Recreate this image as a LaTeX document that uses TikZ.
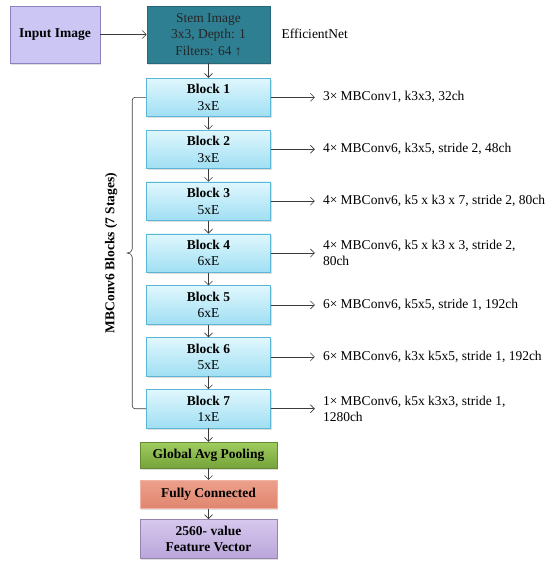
\documentclass[tikz,border=0pt]{standalone}
\usepackage{fontspec}
\setmainfont{Liberation Serif}
\usetikzlibrary{positioning,arrows.meta,shadows}

\definecolor{inpfill}{RGB}{204,198,245}
\definecolor{inpline}{RGB}{140,130,190}
\definecolor{stemfill}{RGB}{47,127,147}
\definecolor{stemline}{RGB}{36,104,122}
\definecolor{blktop}{RGB}{224,247,253}
\definecolor{blkbot}{RGB}{160,223,243}
\definecolor{blkline}{RGB}{90,182,212}
\definecolor{gaptop}{RGB}{160,204,96}
\definecolor{gapbot}{RGB}{118,164,58}
\definecolor{fctop}{RGB}{236,160,140}
\definecolor{fcbot}{RGB}{224,134,112}
\definecolor{fvtop}{RGB}{214,200,238}
\definecolor{fvbot}{RGB}{186,166,218}
\definecolor{linegray}{RGB}{60,60,60}

\begin{document}
\begin{tikzpicture}[x=1pt, y=1pt,
    every node/.style={font=\fontsize{13.5}{16.5}\selectfont},
    box/.style={draw, align=center, inner sep=0pt, line width=0.6pt,
      drop shadow={opacity=0.25, shadow xshift=1pt, shadow yshift=-1.5pt}},
    blk/.style={box, draw=blkline, top color=blktop, bottom color=blkbot,
      minimum width=124pt, minimum height=38.5pt},
    endbox/.style={box, minimum width=137pt, font=\fontsize{13.5}{16.5}\selectfont\bfseries},
    flow/.style={draw=linegray, line width=0.6pt, -{Straight Barb[length=4pt,width=8pt]}},
    spec/.style={anchor=west, align=left, inner xsep=8pt, inner ysep=0pt},
    brk/.style={draw=linegray, line width=0.6pt}]
  \useasboundingbox (0,0) rectangle (553,-562);

  \node [box, draw=inpline, fill=inpfill, minimum width=90pt, minimum height=57pt,
    font=\fontsize{13.5}{16.5}\selectfont\bfseries] (input) at (55,-34.5) {Input Image};
  \node [box, draw=stemline, fill=stemfill, minimum width=123pt, minimum height=57pt,
    text=black!85] (stem) at (208.5,-34.5) {Stem Image\\3x3, Depth: 1\\Filters: 64 ↑};
  \node [anchor=west, inner sep=0pt] (effnet) at ([xshift=11pt,yshift=1pt]stem.east) {EfficientNet};

  \node [blk, below=14.5pt of stem] (b1) {\textbf{Block 1}\\3xE};
  \node [blk, below=12.8pt of b1] (b2) {\textbf{Block 2}\\3xE};
  \node [blk, below=12.8pt of b2] (b3) {\textbf{Block 3}\\5xE};
  \node [blk, below=12.8pt of b3] (b4) {\textbf{Block 4}\\6xE};
  \node [blk, below=12.8pt of b4] (b5) {\textbf{Block 5}\\6xE};
  \node [blk, below=12.8pt of b5] (b6) {\textbf{Block 6}\\5xE};
  \node [blk, below=12.8pt of b6] (b7) {\textbf{Block 7}\\1xE};

  \node [endbox, draw=gapbot!85!black, top color=gaptop, bottom color=gapbot,
    minimum height=26pt, below=13.5pt of b7] (gap) {Global Avg Pooling};
  \node [endbox, draw=fctop!80!white, top color=fctop, bottom color=fcbot,
    minimum height=28pt, below=11.5pt of gap] (fc) {Fully Connected};
  \node [endbox, draw=fvbot!80!black, top color=fvtop, bottom color=fvbot,
    minimum height=39pt, below=10.5pt of fc] (fv) {2560- value\\Feature Vector};

  \node [spec] (s1) at ([xshift=44pt]b1.east) {3× MBConv1, k3x3, 32ch};
  \node [spec] (s2) at ([xshift=44pt]b2.east) {4× MBConv6, k3x5, stride 2, 48ch};
  \node [spec] (s3) at ([xshift=44pt]b3.east) {4× MBConv6, k5 x k3 x 7, stride 2, 80ch};
  \node [spec] (s4) at ([xshift=44pt]b4.east) {4× MBConv6, k5 x k3 x 3, stride 2,\\80ch};
  \node [spec] (s5) at ([xshift=44pt]b5.east) {6× MBConv6, k5x5, stride 1, 192ch};
  \node [spec] (s6) at ([xshift=44pt]b6.east) {6× MBConv6, k3x k5x5, stride 1, 192ch};
  \node [spec] (s7) at ([xshift=44pt]b7.east) {1× MBConv6, k5x k3x3, stride 1,\\1280ch};

  \draw [flow] (input) -- (stem);
  \draw [flow] (stem) -- (b1);
  \draw [flow] (b1) -- (b2);
  \draw [flow] (b2) -- (b3);
  \draw [flow] (b3) -- (b4);
  \draw [flow] (b4) -- (b5);
  \draw [flow] (b5) -- (b6);
  \draw [flow] (b6) -- (b7);
  \draw [flow] (b7) -- (gap);
  \draw [flow] (gap) -- (fc);
  \draw [flow] (fc) -- (fv);

  \draw [flow] (b1.east) -- (s1.west);
  \draw [flow] (b2.east) -- (s2.west);
  \draw [flow] (b3.east) -- (s3.west);
  \draw [flow] (b4.east) -- (s4.west);
  \draw [flow] (b5.east) -- (s5.west);
  \draw [flow] (b6.east) -- (s6.west);
  \draw [flow] (b7.east) -- (s7.west);

  % bracket round the seven stages
  \coordinate (cusp) at ([xshift=-19pt]b4.west);
  \draw [brk] (b1.west) -- ++(-11pt,0) arc[start angle=90, end angle=180, radius=3pt]
    -- ([xshift=-14pt,yshift=4pt]b4.west) to[out=-90, in=0] (cusp)
    to[out=0, in=90] ([xshift=-14pt,yshift=-4pt]b4.west)
    -- ([xshift=-14pt,yshift=3pt]b7.west) arc[start angle=180, end angle=270, radius=3pt]
    -- (b7.west);
  \node [rotate=90, font=\fontsize{13.5}{16.5}\selectfont\bfseries] (stages)
    at ([xshift=-16pt]cusp) {MBConv6 Blocks (7 Stages)};
\end{tikzpicture}
\end{document}
